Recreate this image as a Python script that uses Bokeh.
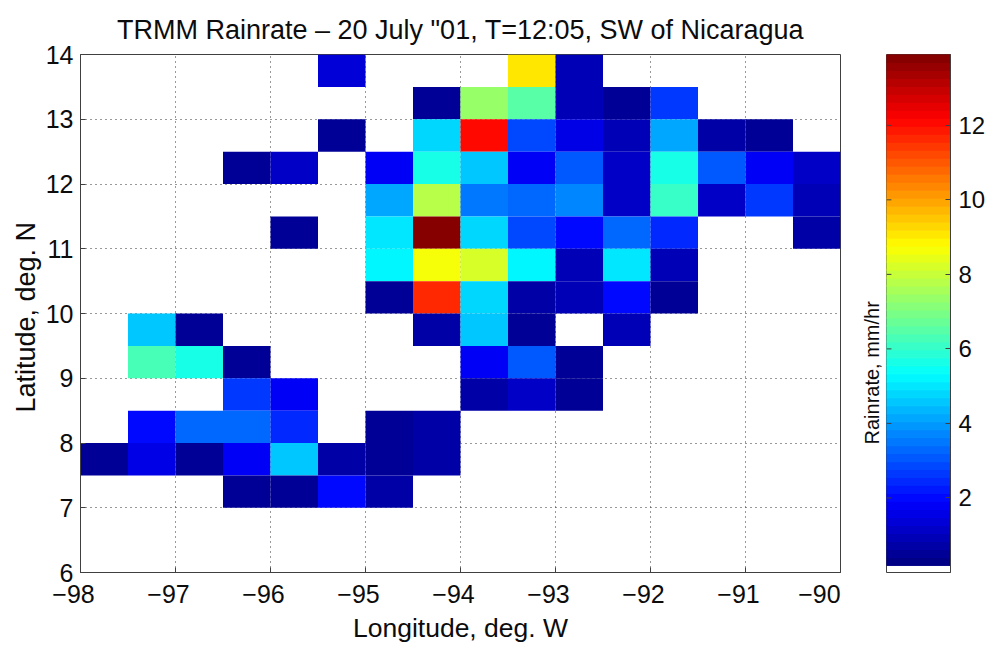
from bokeh.plotting import figure
from bokeh.layouts import row
from bokeh.embed import file_html
from bokeh.resources import INLINE
from bokeh.models import (ColumnDataSource, LinearColorMapper, FixedTicker, LinearAxis,
                          Range1d, Title)
from bokeh.transform import transform

lon_edges = [-98 + 0.5 * i for i in range(17)]
lat_rows = [13.5, 13.0, 12.5, 12.0, 11.5, 11.0, 10.5, 10.0, 9.5, 9.0, 8.5, 8.0, 7.5, 7.0]
N = None
row_135 = [N,N,N,N,N,1.3,N,N,N,9.0,1.0,N,N,N,N,N]
row_130 = [N,N,N,N,N,N,N,0.5,7.3,6.6,0.9,0.6,2.6,N,N,N]
row_125 = [N,N,N,N,N,0.5,N,4.7,12.1,2.8,1.6,0.9,4.2,0.8,0.55,N]
row_120 = [N,N,N,0.5,1.2,N,1.9,5.7,4.5,1.7,3.0,1.1,5.7,3.1,1.9,1.1]
row_115 = [N,N,N,N,N,N,4.2,7.8,3.6,3.2,3.8,1.2,6.1,1.2,2.7,1.0]
row_110 = [N,N,N,N,0.5,N,5.1,13.9,4.9,2.8,2.0,3.3,2.4,N,N,0.7]
row_105 = [N,N,N,N,N,N,5.2,8.7,8.3,5.3,0.9,5.1,0.9,N,N,N]
row_100 = [N,N,N,N,N,N,0.6,11.6,4.7,0.7,0.85,2.0,0.5,N,N,N]
row_095 = [N,4.5,0.5,N,N,N,N,0.7,4.6,0.45,N,0.9,N,N,N,N]
row_090 = [N,6.4,5.6,0.45,N,N,N,N,1.9,3.1,0.5,N,N,N,N,N]
row_085 = [N,N,N,2.7,1.7,N,N,N,0.7,1.2,0.6,N,N,N,N,N]
row_080 = [N,2.0,3.4,3.3,2.5,N,0.6,0.7,N,N,N,N,N,N,N,N]
row_075 = [0.5,1.5,0.5,1.7,4.5,0.8,0.45,0.7,N,N,N,N,N,N,N,N]
row_070 = [N,N,N,0.55,0.55,2.0,0.75,N,N,N,N,N,N,N,N,N]
rain_rows = [row_135,row_130,row_125,row_120,row_115,row_110,row_105,
             row_100,row_095,row_090,row_085,row_080,row_075,row_070]

lon_ticks = [-98,-97,-96,-95,-94,-93,-92,-91,-90]
lat_ticks = [6,7,8,9,10,11,12,13,14]
cbar_ticks = [2,4,6,8,10,12]
title_text = 'TRMM Rainrate \u2013 20 July "01, T=12:05, SW of Nicaragua'

def jet(n):
    out = []
    for i in range(n):
        t = (i + 0.5) / n
        r = min(1, max(0, min(4*t - 1.5, -4*t + 4.5)))
        g = min(1, max(0, min(4*t - 0.5, -4*t + 3.5)))
        b = min(1, max(0, min(4*t + 0.5, -4*t + 2.5)))
        out.append("#%02x%02x%02x" % (round(r*255), round(g*255), round(b*255)))
    return out

palette = jet(64)
low, high = 0.19, 13.9
mapper = LinearColorMapper(palette=palette, low=low, high=high)

l, r, b, t, v = [], [], [], [], []
for lat, vals in zip(lat_rows, rain_rows):
    for i, val in enumerate(vals):
        if val is not None:
            l.append(lon_edges[i]); r.append(lon_edges[i+1])
            b.append(lat); t.append(lat + 0.5); v.append(val)
src = ColumnDataSource(dict(left=l, right=r, bottom=b, top=t, rain=v))

FONT = "Liberation Sans"
DARK = "#404040"
INK = "#0c0c0c"

p = figure(width=854, height=645, output_backend="svg", toolbar_location=None,
           x_range=Range1d(-98, -90), y_range=Range1d(6, 14),
           min_border_left=80, min_border_right=14, min_border_top=54, min_border_bottom=72)
p.quad(left="left", right="right", bottom="bottom", top="top", source=src,
       fill_color=transform("rain", mapper), line_color=None)

for ax, ticks in ((p.xaxis[0], lon_ticks), (p.yaxis[0], lat_ticks)):
    ax.ticker = FixedTicker(ticks=ticks)
    ax.major_tick_in = 5
    ax.major_tick_out = 0
    ax.minor_tick_line_color = None
    ax.axis_line_color = DARK
    ax.major_tick_line_color = DARK
    ax.major_label_text_font = FONT
    ax.major_label_text_font_size = "25px"
    ax.major_label_text_color = INK
    ax.axis_label_text_font = FONT
    ax.axis_label_text_font_style = "normal"
    ax.axis_label_text_color = INK
p.xaxis[0].major_label_overrides = {k: "\u2212%d\u00a0\u00a0" % abs(k) for k in lon_ticks}
p.xaxis[0].major_label_standoff = 7
p.yaxis[0].major_label_standoff = 7
p.xaxis[0].axis_label = "Longitude, deg. W"
p.xaxis[0].axis_label_text_font_size = "26.5px"
p.xaxis[0].axis_label_standoff = 2
p.yaxis[0].axis_label = "Latitude, deg. N\u00a0"
p.yaxis[0].axis_label_text_font_size = "27px"
p.yaxis[0].axis_label_standoff = 2

for g, ticks in ((p.xgrid[0], lon_ticks), (p.ygrid[0], lat_ticks)):
    g.ticker = FixedTicker(ticks=ticks)
    g.grid_line_color = "#333333"
    g.grid_line_dash = "1 4"
    g.grid_line_width = 1
p.outline_line_color = DARK

p.title.text = title_text
p.title.align = "center"
p.title.text_font = FONT
p.title.text_font_size = "27px"
p.title.text_font_style = "normal"
p.title.text_color = INK
p.title.standoff = 20

# colour bar
levels = [low + (high - low) * i / 64 for i in range(64)]
csrc = ColumnDataSource(dict(bottom=levels, top=[x + (high - low) / 64 for x in levels],
                             left=[0]*64, right=[1]*64, color=palette))
c = figure(width=134, height=645, output_backend="svg", toolbar_location=None,
           x_range=Range1d(0, 1), y_range=Range1d(0, high),
           min_border_left=26, min_border_right=37, min_border_top=54, min_border_bottom=72)
c.quad(left="left", right="right", bottom="bottom", top="top", color="color", source=csrc)
c.segment(x0=[0]*len(cbar_ticks), x1=[0.077]*len(cbar_ticks), y0=cbar_ticks, y1=cbar_ticks,
          line_color=DARK)
c.grid.visible = False
c.xaxis.visible = False
c.yaxis.visible = False
ax = LinearAxis(ticker=FixedTicker(ticks=cbar_ticks))
ax.major_tick_in = 5
ax.major_tick_out = 0
ax.minor_tick_line_color = None
ax.axis_line_color = DARK
ax.major_tick_line_color = DARK
ax.major_label_text_font = FONT
ax.major_label_text_font_size = "24px"
ax.major_label_text_color = INK
ax.major_label_standoff = 8
c.add_layout(ax, "right")
c.outline_line_color = DARK
c.add_layout(Title(text="Rainrate, mm/hr", align="left", offset=128, standoff=8,
                   text_font=FONT, text_font_size="20px", text_font_style="normal",
                   text_color=INK), "left")

open("out.html", "w").write(file_html(row(p, c, spacing=0), INLINE))
